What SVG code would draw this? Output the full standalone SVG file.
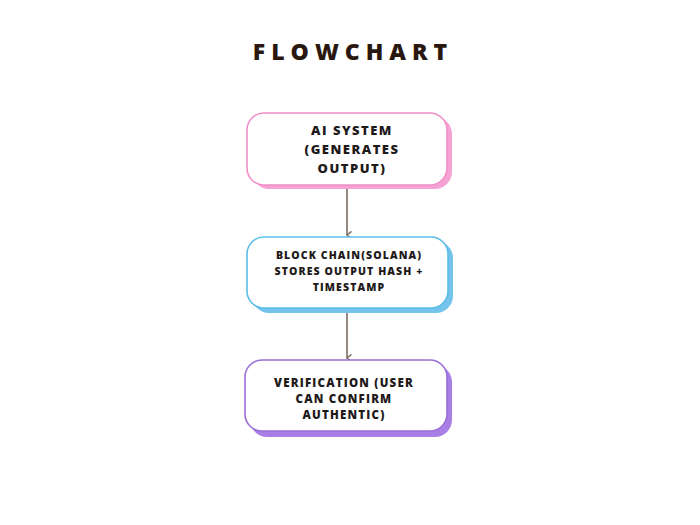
<svg xmlns="http://www.w3.org/2000/svg" width="700" height="525" viewBox="0 0 700 525">
<style>
.t{font-family:"Open Sans","Liberation Sans",sans-serif;font-weight:800;fill:#1f1a1a;text-anchor:middle}
.title{font-family:"Open Sans","Liberation Sans",sans-serif;font-weight:800;font-size:23px;letter-spacing:6px;fill:#2a1810;text-anchor:middle}
.front{fill:#ffffff;stroke-width:1.6}
.conn{stroke:#7d6b5f;stroke-width:1.6;fill:none}
</style>
<defs>
<marker id="ah" viewBox="0 0 10 10" refX="5" refY="8" markerWidth="9" markerHeight="9" orient="auto" markerUnits="userSpaceOnUse">
<path d="M1,3 L5,8 L9,3" fill="none" stroke="#7d6b5f" stroke-width="1.6"/>
</marker>
</defs>
<rect width="700" height="525" fill="#ffffff"/>
<text class="title" x="353" y="60">FLOWCHART</text>
<g id="connectors">
<line class="conn" x1="347" y1="189" x2="347" y2="235" marker-end="url(#ah)"/>
<line class="conn" x1="347" y1="313" x2="347" y2="358" marker-end="url(#ah)"/>
</g>
<g id="ai-system">
<rect x="252" y="117" width="200" height="72" rx="17" fill="#f5a3d3"/>
<rect class="front" x="247" y="113" width="200" height="72" rx="17" stroke="#f08fc8"/>
<text class="t" font-size="13" letter-spacing="1.5"><tspan x="352" y="135">AI SYSTEM</tspan><tspan x="352" y="154">(GENERATES</tspan><tspan x="352" y="173">OUTPUT)</tspan></text>
</g>
<g id="blockchain">
<rect x="252" y="241" width="201" height="72" rx="17" fill="#74c4ee"/>
<rect class="front" x="247" y="237" width="201" height="71" rx="17" stroke="#5bbde8"/>
<text class="t" font-size="10.5" letter-spacing="1.1"><tspan x="349" y="259">BLOCK CHAIN(SOLANA)</tspan><tspan x="349" y="275">STORES OUTPUT HASH +</tspan><tspan x="349" y="291">TIMESTAMP</tspan></text>
</g>
<g id="verification">
<rect x="250" y="365" width="202" height="72" rx="17" fill="#a97fe6"/>
<rect class="front" x="245" y="360" width="202" height="71" rx="17" stroke="#9b6fd8"/>
<text class="t" font-size="11.5" letter-spacing="1.2"><tspan x="344" y="387">VERIFICATION (USER</tspan><tspan x="344" y="403">CAN CONFIRM</tspan><tspan x="344" y="419">AUTHENTIC)</tspan></text>
</g>
</svg>
